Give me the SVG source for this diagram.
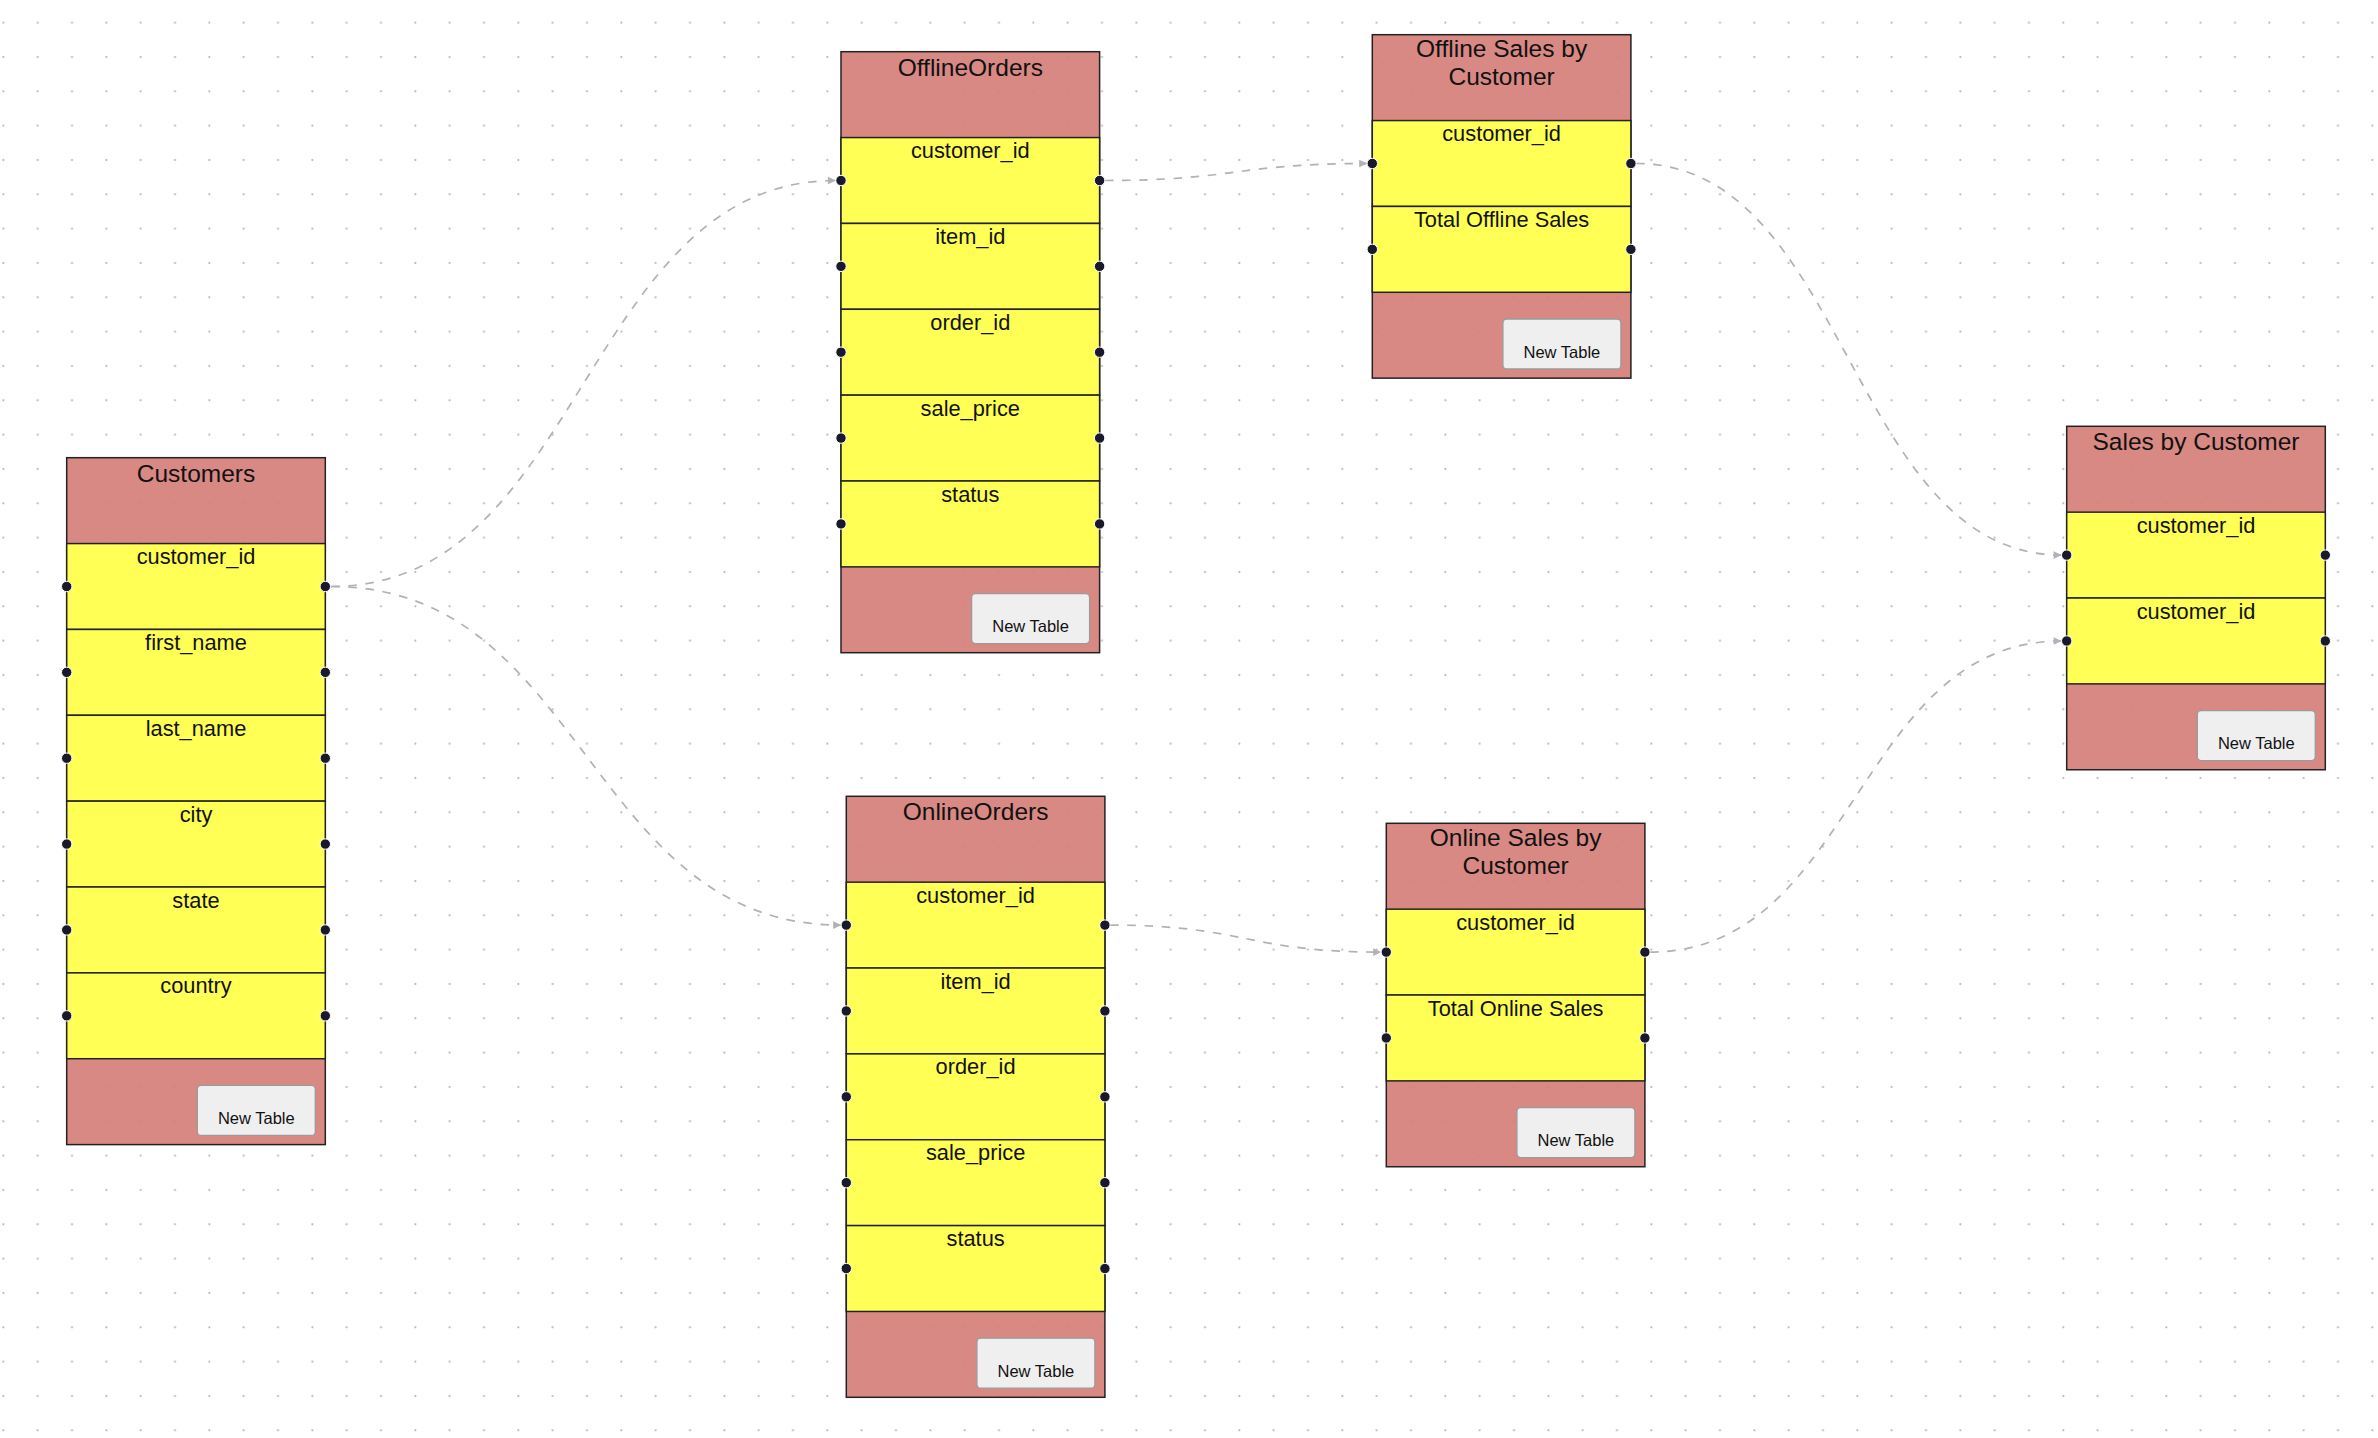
<svg xmlns="http://www.w3.org/2000/svg" width="2378" height="1438" viewBox="0 0 2378 1438">
<defs>
<pattern id="grid" patternUnits="userSpaceOnUse" width="34.333" height="34.333">
<circle cx="3.33" cy="22.67" r="1.1" fill="#b5b5b5"/>
</pattern>
<marker id="arr" viewBox="-10 -5 10 10" refX="0" refY="0" markerWidth="9" markerHeight="9" markerUnits="userSpaceOnUse" orient="auto">
<path d="M-9,-4.2 L0,0 L-9,4.2 Z" fill="#b1b1b7"/>
</marker>
</defs>
<style>
.body{fill:#d67f7a;fill-opacity:0.92;stroke:#222;stroke-width:1.5}
.row{fill:#ffff55;stroke:#222;stroke-width:1.5}
.title{font-family:"Liberation Sans",Arial,sans-serif;font-size:24.5px;fill:#111;text-anchor:middle}
.lbl{font-family:"Liberation Sans",Arial,sans-serif;font-size:21.8px;fill:#111;text-anchor:middle}
.btn{fill:#efefef;stroke:#9a9a9a;stroke-width:1.3}
.btxt{font-family:"Liberation Sans",Arial,sans-serif;font-size:16.5px;fill:#111;text-anchor:middle}
.h{fill:#1a192b;stroke:#fff;stroke-width:1}
.edge{fill:none;stroke:#b1b1b7;stroke-width:1.7;stroke-dasharray:8.6 8.6}
</style>
<rect width="2378" height="1438" fill="#fff"/>
<rect width="2378" height="1438" fill="url(#grid)"/>
<g id="connectors">
<path class="edge" d="M331,586.5 C583.5,586.5 583.5,180.5 836,180.5" marker-end="url(#arr)"/>
<path class="edge" d="M331,586.5 C586.2,586.5 586.2,925.1 841.3,925.1" marker-end="url(#arr)"/>
<path class="edge" d="M1104.6,180.5 C1236,180.5 1236,163.5 1367.3,163.5" marker-end="url(#arr)"/>
<path class="edge" d="M1635.9,163.5 C1848.8,163.5 1848.8,555.1 2061.7,555.1" marker-end="url(#arr)"/>
<path class="edge" d="M1109.9,925.1 C1245.6,925.1 1245.6,952.1 1381.3,952.1" marker-end="url(#arr)"/>
<path class="edge" d="M1649.9,952.1 C1855.8,952.1 1855.8,641 2061.7,641" marker-end="url(#arr)"/>
</g>
<g id="customers">
<rect class="body" x="66.7" y="457.7" width="258.6" height="686.9"/>
<text class="title" x="196" y="481.7">Customers</text>
<rect class="row" x="66.7" y="543.56" width="258.6" height="85.86"/>
<rect class="row" x="66.7" y="629.42" width="258.6" height="85.86"/>
<rect class="row" x="66.7" y="715.28" width="258.6" height="85.86"/>
<rect class="row" x="66.7" y="801.14" width="258.6" height="85.86"/>
<rect class="row" x="66.7" y="887" width="258.6" height="85.86"/>
<rect class="row" x="66.7" y="972.86" width="258.6" height="85.86"/>
<text class="lbl" x="196" y="564.1">customer_id</text>
<text class="lbl" x="196" y="649.9">first_name</text>
<text class="lbl" x="196" y="735.8">last_name</text>
<text class="lbl" x="196" y="821.6">city</text>
<text class="lbl" x="196" y="907.5">state</text>
<text class="lbl" x="196" y="993.4">country</text>
<g>
<circle class="h" cx="66.7" cy="586.5" r="5.2"/><circle class="h" cx="325.3" cy="586.5" r="5.2"/>
<circle class="h" cx="66.7" cy="672.35" r="5.2"/><circle class="h" cx="325.3" cy="672.35" r="5.2"/>
<circle class="h" cx="66.7" cy="758.2" r="5.2"/><circle class="h" cx="325.3" cy="758.2" r="5.2"/>
<circle class="h" cx="66.7" cy="844.07" r="5.2"/><circle class="h" cx="325.3" cy="844.07" r="5.2"/>
<circle class="h" cx="66.7" cy="929.93" r="5.2"/><circle class="h" cx="325.3" cy="929.93" r="5.2"/>
<circle class="h" cx="66.7" cy="1015.8" r="5.2"/><circle class="h" cx="325.3" cy="1015.8" r="5.2"/>
</g>
<rect class="btn" x="197.3" y="1085.4" width="118" height="50" rx="4"/>
<text class="btxt" x="256.3" y="1124">New Table</text>
</g>
<g id="offline-orders">
<rect class="body" x="841" y="51.7" width="258.6" height="601"/>
<text class="title" x="970.3" y="75.5">OfflineOrders</text>
<rect class="row" x="841" y="137.56" width="258.6" height="85.86"/>
<rect class="row" x="841" y="223.42" width="258.6" height="85.86"/>
<rect class="row" x="841" y="309.28" width="258.6" height="85.86"/>
<rect class="row" x="841" y="395.14" width="258.6" height="85.86"/>
<rect class="row" x="841" y="481" width="258.6" height="85.86"/>
<text class="lbl" x="970.3" y="158.1">customer_id</text>
<text class="lbl" x="970.3" y="243.9">item_id</text>
<text class="lbl" x="970.3" y="329.8">order_id</text>
<text class="lbl" x="970.3" y="415.6">sale_price</text>
<text class="lbl" x="970.3" y="501.5">status</text>
<g>
<circle class="h" cx="841" cy="180.5" r="5.2"/><circle class="h" cx="1099.6" cy="180.5" r="5.2"/>
<circle class="h" cx="841" cy="266.35" r="5.2"/><circle class="h" cx="1099.6" cy="266.35" r="5.2"/>
<circle class="h" cx="841" cy="352.2" r="5.2"/><circle class="h" cx="1099.6" cy="352.2" r="5.2"/>
<circle class="h" cx="841" cy="438.07" r="5.2"/><circle class="h" cx="1099.6" cy="438.07" r="5.2"/>
<circle class="h" cx="841" cy="523.93" r="5.2"/><circle class="h" cx="1099.6" cy="523.93" r="5.2"/>
</g>
<rect class="btn" x="971.6" y="593.6" width="118" height="50" rx="4"/>
<text class="btxt" x="1030.6" y="632.3">New Table</text>
</g>
<g id="online-orders">
<rect class="body" x="846.3" y="796.3" width="258.6" height="601"/>
<text class="title" x="975.6" y="820">OnlineOrders</text>
<rect class="row" x="846.3" y="882.16" width="258.6" height="85.86"/>
<rect class="row" x="846.3" y="968.02" width="258.6" height="85.86"/>
<rect class="row" x="846.3" y="1053.88" width="258.6" height="85.86"/>
<rect class="row" x="846.3" y="1139.74" width="258.6" height="85.86"/>
<rect class="row" x="846.3" y="1225.6" width="258.6" height="85.86"/>
<text class="lbl" x="975.6" y="902.7">customer_id</text>
<text class="lbl" x="975.6" y="988.5">item_id</text>
<text class="lbl" x="975.6" y="1074.4">order_id</text>
<text class="lbl" x="975.6" y="1160.2">sale_price</text>
<text class="lbl" x="975.6" y="1246.1">status</text>
<g>
<circle class="h" cx="846.3" cy="925.1" r="5.2"/><circle class="h" cx="1104.9" cy="925.1" r="5.2"/>
<circle class="h" cx="846.3" cy="1010.95" r="5.2"/><circle class="h" cx="1104.9" cy="1010.95" r="5.2"/>
<circle class="h" cx="846.3" cy="1096.8" r="5.2"/><circle class="h" cx="1104.9" cy="1096.8" r="5.2"/>
<circle class="h" cx="846.3" cy="1182.67" r="5.2"/><circle class="h" cx="1104.9" cy="1182.67" r="5.2"/>
<circle class="h" cx="846.3" cy="1268.53" r="5.2"/><circle class="h" cx="1104.9" cy="1268.53" r="5.2"/>
</g>
<rect class="btn" x="976.9" y="1338.2" width="118" height="50" rx="4"/>
<text class="btxt" x="1035.9" y="1376.9">New Table</text>
</g>
<g id="offline-sales-by-customer">
<rect class="body" x="1372.3" y="34.7" width="258.6" height="343.44"/>
<text class="title" x="1501.6" y="56.7">Offline Sales by</text>
<text class="title" x="1501.6" y="85">Customer</text>
<rect class="row" x="1372.3" y="120.56" width="258.6" height="85.86"/>
<rect class="row" x="1372.3" y="206.42" width="258.6" height="85.86"/>
<text class="lbl" x="1501.6" y="141.1">customer_id</text>
<text class="lbl" x="1501.6" y="226.9">Total Offline Sales</text>
<g>
<circle class="h" cx="1372.3" cy="163.5" r="5.2"/><circle class="h" cx="1630.9" cy="163.5" r="5.2"/>
<circle class="h" cx="1372.3" cy="249.35" r="5.2"/><circle class="h" cx="1630.9" cy="249.35" r="5.2"/>
</g>
<rect class="btn" x="1502.9" y="319" width="118" height="50" rx="4"/>
<text class="btxt" x="1561.9" y="357.7">New Table</text>
</g>
<g id="online-sales-by-customer">
<rect class="body" x="1386.3" y="823.3" width="258.6" height="343.44"/>
<text class="title" x="1515.6" y="845.7">Online Sales by</text>
<text class="title" x="1515.6" y="874">Customer</text>
<rect class="row" x="1386.3" y="909.16" width="258.6" height="85.86"/>
<rect class="row" x="1386.3" y="995.02" width="258.6" height="85.86"/>
<text class="lbl" x="1515.6" y="929.7">customer_id</text>
<text class="lbl" x="1515.6" y="1015.5">Total Online Sales</text>
<g>
<circle class="h" cx="1386.3" cy="952.1" r="5.2"/><circle class="h" cx="1644.9" cy="952.1" r="5.2"/>
<circle class="h" cx="1386.3" cy="1037.95" r="5.2"/><circle class="h" cx="1644.9" cy="1037.95" r="5.2"/>
</g>
<rect class="btn" x="1516.9" y="1107.6" width="118" height="50" rx="4"/>
<text class="btxt" x="1575.9" y="1146.3">New Table</text>
</g>
<g id="sales-by-customer">
<rect class="body" x="2066.7" y="426.3" width="258.6" height="343.44"/>
<text class="title" x="2196" y="450">Sales by Customer</text>
<rect class="row" x="2066.7" y="512.16" width="258.6" height="85.86"/>
<rect class="row" x="2066.7" y="598.02" width="258.6" height="85.86"/>
<text class="lbl" x="2196" y="532.7">customer_id</text>
<text class="lbl" x="2196" y="618.5">customer_id</text>
<g>
<circle class="h" cx="2066.7" cy="555.1" r="5.2"/><circle class="h" cx="2325.3" cy="555.1" r="5.2"/>
<circle class="h" cx="2066.7" cy="640.95" r="5.2"/><circle class="h" cx="2325.3" cy="640.95" r="5.2"/>
</g>
<rect class="btn" x="2197.3" y="710.6" width="118" height="50" rx="4"/>
<text class="btxt" x="2256.3" y="749.3">New Table</text>
</g>
</svg>
